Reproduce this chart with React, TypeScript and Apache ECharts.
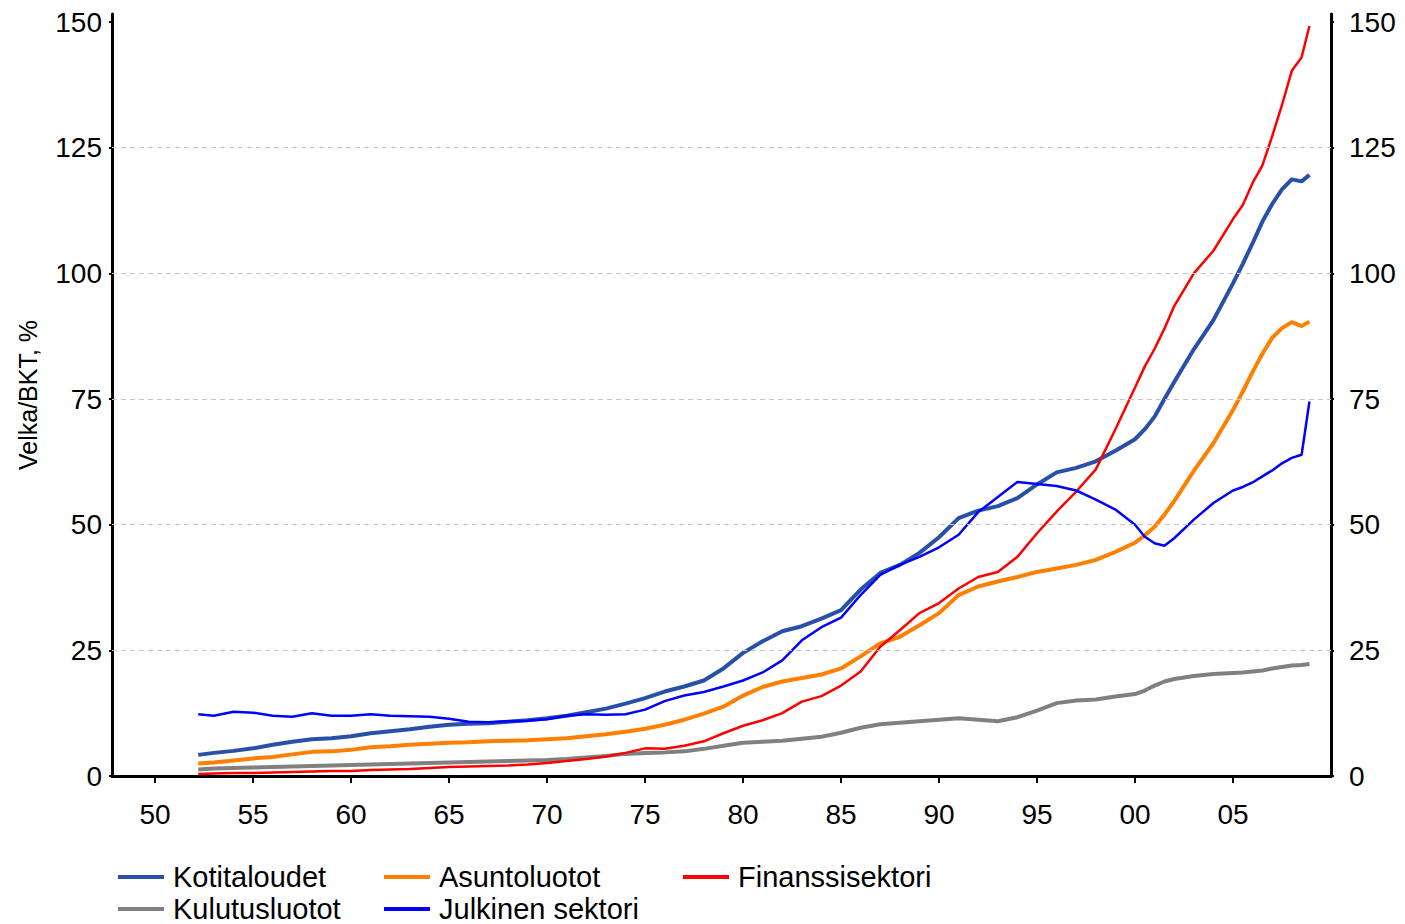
import React, { useEffect, useRef } from "react";
import * as echarts from "echarts";

const years = [
  1952.2, 1953, 1954, 1955, 1956, 1957, 1958, 1959, 1960, 1961, 1962, 1963, 1964, 1965, 1966, 1967, 1968, 1969,
  1970, 1971, 1972, 1973, 1974, 1975, 1976, 1977, 1978, 1979, 1980, 1981, 1982, 1983, 1984, 1985, 1986, 1987,
  1988, 1989, 1990, 1991, 1992, 1993, 1994, 1995, 1996, 1997, 1998, 1999, 2000, 2000.5, 2001, 2001.5, 2002,
  2003, 2004, 2005, 2005.5, 2006, 2006.5, 2007, 2007.5, 2008, 2008.5, 2008.9,
];

const kotitaloudet = [
  4.2, 4.6, 5.0, 5.5, 6.2, 6.8, 7.3, 7.5, 7.9, 8.5, 8.9, 9.3, 9.8, 10.2, 10.4, 10.5, 10.8, 11.1,
  11.5, 12.0, 12.7, 13.4, 14.4, 15.5, 16.8, 17.8, 19.0, 21.4, 24.5, 26.8, 28.8, 29.8, 31.3, 33.0, 37.1, 40.4,
  42.0, 44.4, 47.5, 51.3, 52.8, 53.7, 55.3, 58.0, 60.4, 61.3, 62.6, 64.7, 67.0, 69.0, 71.5, 75.0, 78.4,
  84.9, 90.7, 98.0, 101.9, 106.0, 110.3, 113.8, 116.7, 118.7, 118.3, 119.6,
];

const asuntoluotot = [
  2.5, 2.7, 3.1, 3.5, 3.8, 4.3, 4.8, 4.9, 5.2, 5.7, 5.9, 6.2, 6.4, 6.6, 6.7, 6.9, 7.0, 7.1,
  7.3, 7.5, 7.9, 8.3, 8.8, 9.4, 10.2, 11.2, 12.4, 13.8, 16.0, 17.7, 18.8, 19.5, 20.2, 21.4, 23.8, 26.4,
  27.7, 30.0, 32.4, 36.0, 37.7, 38.7, 39.6, 40.6, 41.3, 42.0, 43.0, 44.6, 46.4, 47.9, 49.6, 52.0, 54.7,
  60.7, 66.2, 72.8, 76.5, 80.4, 84.0, 87.2, 89.1, 90.3, 89.5, 90.4,
];

const finanssisektori = [
  0.4, 0.5, 0.6, 0.6, 0.7, 0.8, 0.9, 1.0, 1.0, 1.2, 1.3, 1.4, 1.6, 1.8, 1.9, 2.0, 2.1, 2.3,
  2.6, 3.0, 3.4, 3.9, 4.6, 5.5, 5.4, 6.0, 6.9, 8.5, 10.0, 11.1, 12.5, 14.8, 15.9, 18.0, 20.8, 25.7,
  29.0, 32.4, 34.4, 37.3, 39.6, 40.6, 43.6, 48.3, 52.6, 56.6, 61.0, 69.0, 77.3, 81.5, 85.0, 89.0, 93.5,
  100.0, 104.5, 110.8, 113.6, 118.0, 121.5, 127.3, 133.5, 140.3, 143.0, 149.2,
];

const kulutusluotot = [
  1.3, 1.5, 1.6, 1.7, 1.8, 1.9, 2.0, 2.1, 2.2, 2.3, 2.4, 2.5, 2.6, 2.7, 2.8, 2.9, 3.0, 3.1,
  3.2, 3.4, 3.7, 4.0, 4.4, 4.6, 4.7, 4.9, 5.4, 6.0, 6.6, 6.8, 7.0, 7.4, 7.8, 8.6, 9.6, 10.3,
  10.6, 10.9, 11.2, 11.5, 11.2, 10.9, 11.7, 13.0, 14.5, 15.0, 15.2, 15.8, 16.3, 17.0, 18.0, 18.8, 19.3,
  19.9, 20.3, 20.5, 20.6, 20.8, 21.0, 21.4, 21.7, 22.0, 22.1, 22.3,
];

const julkinenSektori = [
  12.3, 12.0, 12.8, 12.6, 12.0, 11.8, 12.5, 12.0, 12.0, 12.3, 12.0, 11.9, 11.8, 11.4, 10.8, 10.7, 10.9, 11.0,
  11.3, 12.0, 12.3, 12.2, 12.3, 13.2, 14.9, 16.0, 16.7, 17.8, 19.0, 20.6, 23.0, 27.0, 29.6, 31.5, 36.0, 40.0,
  42.0, 43.6, 45.5, 48.0, 52.5, 55.5, 58.5, 58.1, 57.7, 56.8, 55.0, 53.0, 50.0, 47.6, 46.3, 45.8, 47.3,
  51.0, 54.3, 56.8, 57.5, 58.4, 59.6, 60.8, 62.2, 63.3, 63.9, 74.5,
];

const yTicks = [0, 25, 50, 75, 100, 125, 150];
const gridLines = [25, 50, 75, 100, 125];
const xTicks = [1950, 1955, 1960, 1965, 1970, 1975, 1980, 1985, 1990, 1995, 2000, 2005];

const FONT = "'Liberation Sans', Arial, Helvetica, sans-serif";

function pairs(vals: number[]) {
  return years.map((y, i) => [y, vals[i]]);
}

export default function App() {
  const ref = useRef<HTMLDivElement>(null);
  useEffect(() => {
    if (!ref.current) return;
    const chart = echarts.init(ref.current, null, { renderer: "svg" });

    const yAxisCommon = {
      type: "value",
      min: 0,
      max: 151.6,
      axisLine: { show: true, lineStyle: { color: "#000", width: 3 } },
      axisTick: { show: true, customValues: yTicks, length: 3, lineStyle: { color: "#000", width: 2 } },
      axisLabel: { customValues: yTicks, color: "#000", fontSize: 28, fontFamily: FONT },
      splitLine: { show: false },
    };

    const lineSeries = (name: string, vals: number[], color: string, width: number) => ({
      name,
      type: "line",
      data: pairs(vals),
      showSymbol: false,
      symbol: "none",
      z: 3,
      lineStyle: { color, width },
      itemStyle: { color },
    });

    const legendCommon = {
      orient: "vertical",
      padding: 0,
      itemGap: 2,
      itemWidth: 46,
      itemHeight: 4,
      icon: "rect",
      textStyle: { color: "#000", fontSize: 29, fontFamily: FONT, lineHeight: 30, padding: [0, 0, 0, 4] },
    };

    chart.setOption({
      animation: false,
      backgroundColor: "#fff",
      grid: { left: 112, right: 74, top: 14, bottom: 148, containLabel: false },
      xAxis: {
        type: "value",
        min: 1947.8,
        max: 2010,
        axisLine: { show: true, lineStyle: { color: "#000", width: 3 } },
        axisTick: { show: true, customValues: xTicks, length: 7, lineStyle: { color: "#000", width: 2 } },
        axisLabel: {
          customValues: xTicks,
          color: "#000",
          fontSize: 28,
          fontFamily: FONT,
          margin: 24,
          formatter: (v: number) => String(Math.round(v) % 100).padStart(2, "0"),
        },
        splitLine: { show: false },
      },
      yAxis: [
        {
          ...yAxisCommon,
          position: "left",
          name: "Velka/BKT, %",
          nameLocation: "middle",
          nameGap: 72,
          nameRotate: 90,
          nameTextStyle: { color: "#000", fontSize: 25, fontFamily: FONT },
          axisLabel: { ...yAxisCommon.axisLabel, margin: 10 },
        },
        {
          ...yAxisCommon,
          position: "right",
          axisLabel: { ...yAxisCommon.axisLabel, margin: 18 },
        },
      ],
      legend: [
        { ...legendCommon, left: 118, top: 862, data: ["Kotitaloudet", "Kulutusluotot"] },
        { ...legendCommon, left: 384, top: 862, data: ["Asuntoluotot", "Julkinen sektori"] },
        { ...legendCommon, left: 683, top: 862, data: ["Finanssisektori"] },
      ],
      series: [
        {
          name: "grid",
          type: "line",
          data: [],
          z: 1,
          silent: true,
          markLine: {
            silent: true,
            symbol: "none",
            label: { show: false },
            lineStyle: { color: "#c8c8c8", width: 1, type: [5, 4] },
            data: gridLines.map((v) => ({ yAxis: v })),
          },
        },
        lineSeries("Kulutusluotot", kulutusluotot, "#808080", 4),
        lineSeries("Asuntoluotot", asuntoluotot, "#ff8000", 4),
        lineSeries("Kotitaloudet", kotitaloudet, "#2850a8", 4),
        lineSeries("Finanssisektori", finanssisektori, "#ff0000", 2.5),
        lineSeries("Julkinen sektori", julkinenSektori, "#0000ff", 2.5),
      ],
    });

    return () => chart.dispose();
  }, []);

  return <div ref={ref} style={{ width: 1405, height: 924, position: "absolute", left: 0, top: 0 }} />;
}
